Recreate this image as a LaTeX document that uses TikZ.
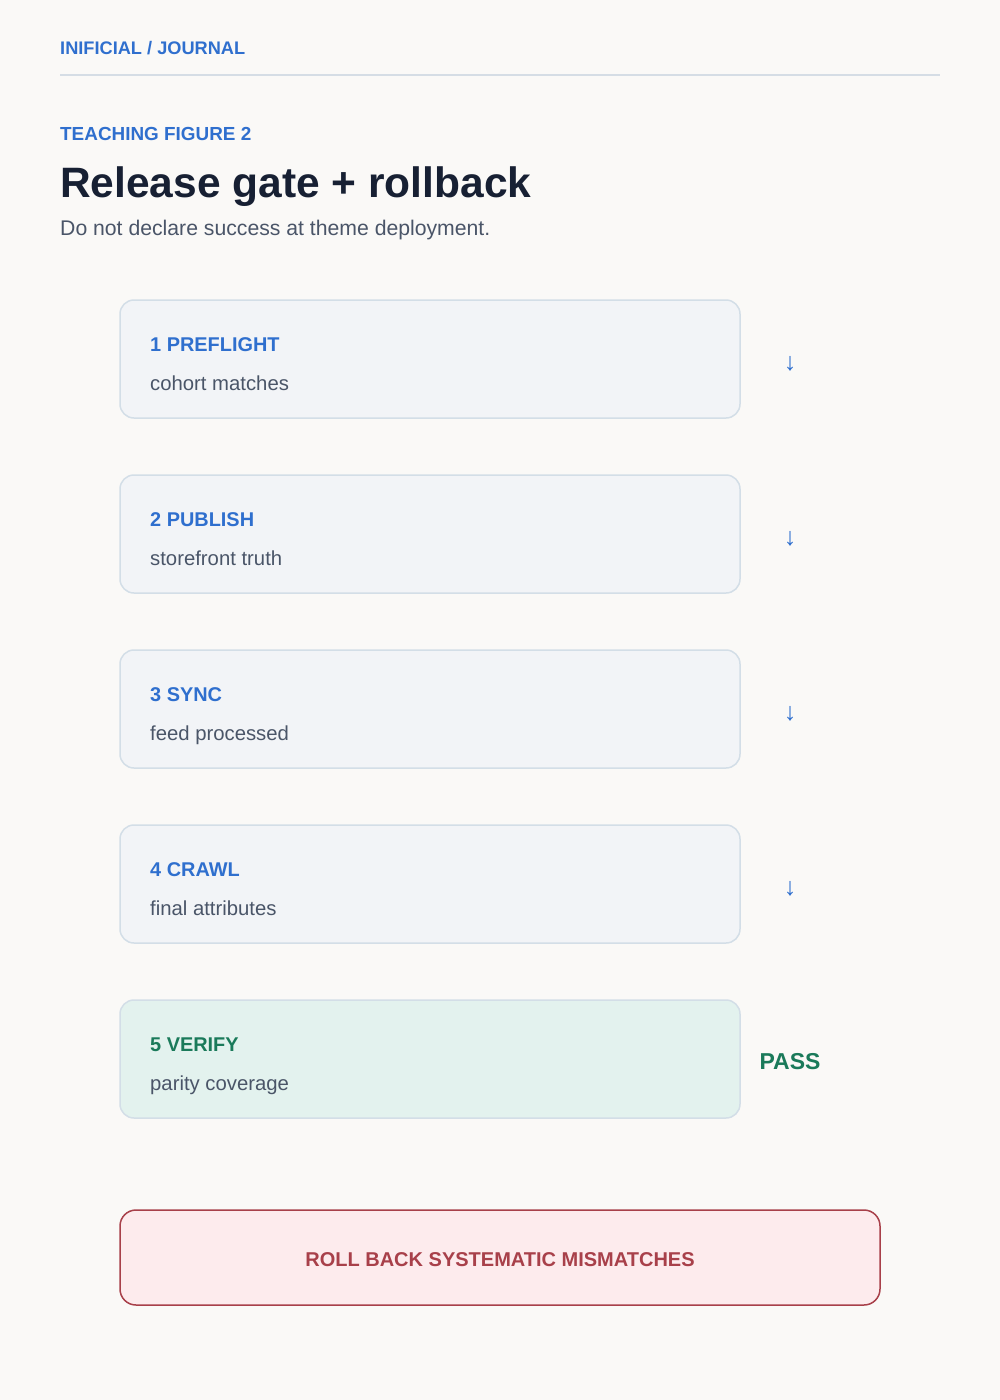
\documentclass[tikz,border=0pt]{standalone}
\usepackage{fontspec}
\setmainfont{Liberation Sans}
\definecolor{bg}{HTML}{FAF9F7}
\definecolor{rule}{HTML}{D5DDE5}
\definecolor{accent}{HTML}{2F6FCE}
\definecolor{ink}{HTML}{172033}
\definecolor{muted}{HTML}{4A5568}
\definecolor{stepfill}{HTML}{F2F4F7}
\definecolor{stepline}{HTML}{D3DEE7}
\definecolor{okfill}{HTML}{E3F2EE}
\definecolor{okink}{HTML}{1A7A5A}
\definecolor{badfill}{HTML}{FDEBED}
\definecolor{badline}{HTML}{A8404A}
\begin{document}
\begin{tikzpicture}[x=1pt,y=-1pt,
  stepbox/.style={draw=stepline,line width=1.5pt,fill=stepfill,rounded corners=14pt,minimum width=620pt,minimum height=118pt,inner sep=0pt},
  okbox/.style={stepbox,fill=okfill},
  steptitle/.style={anchor=base west,inner sep=0pt,font=\fontsize{19.9}{23}\selectfont\bfseries,text=accent},
  stepsub/.style={anchor=base west,inner sep=0pt,font=\fontsize{20.3}{24}\selectfont,text=muted},
  downarrow/.style={inner sep=0pt,font=\fontsize{25}{29}\selectfont,text=accent},
  kicker/.style={anchor=base west,inner sep=0pt,font=\fontsize{18.5}{22}\selectfont\bfseries,text=accent}]
\fill[bg] (0,0) rectangle (1000,1400);
\useasboundingbox (0,0) rectangle (1000,1400);
\node[kicker,font=\fontsize{18.2}{22}\selectfont\bfseries] (brand) at (60,54) {INIFICIAL / JOURNAL};
\coordinate (ruleL) at (60,75);
\coordinate (ruleR) at (940,75);
\draw[rule,line width=1.5pt] (ruleL) -- (ruleR);
\node[kicker,font=\fontsize{18.9}{22}\selectfont\bfseries] (fig) at (60,140) {TEACHING FIGURE 2};
\node[anchor=base west,inner sep=0pt,font=\fontsize{42.5}{48}\selectfont\bfseries,text=ink] (title) at (60,197) {Release gate + rollback};
\node[anchor=base west,inner sep=0pt,font=\fontsize{21.2}{25}\selectfont,text=muted] (sub) at (60,235) {Do not declare success at theme deployment.};

\foreach \i/\y/\t/\s in {1/359/1 PREFLIGHT/cohort matches,2/534/2 PUBLISH/storefront truth,3/709/3 SYNC/feed processed,4/884/4 CRAWL/final attributes}{
  \node[stepbox] (b\i) at (430,\y) {};
  \node[steptitle] (t\i) at (150,\y-8) {\t};
  \node[stepsub] (s\i) at (150,\y+31) {\s};
  \node[downarrow] (a\i) at (790,\y+5) {↓};
}
\node[okbox] (b5) at (430,1059) {};
\node[steptitle,text=okink] (t5) at (150,1051) {5 VERIFY};
\node[stepsub] (s5) at (150,1090) {parity coverage};
\node[inner sep=0pt,font=\fontsize{23}{27}\selectfont\bfseries,text=okink] (pass) at (790,1062) {PASS};

\node[draw=badline,line width=1.5pt,fill=badfill,rounded corners=16pt,minimum width=760pt,minimum height=95pt,inner sep=0pt] (rb) at (500,1257.5) {};
\node[inner sep=0pt,font=\fontsize{20}{24}\selectfont\bfseries,text=badline] (rbt) at (500,1260) {ROLL BACK SYSTEMATIC MISMATCHES};
\end{tikzpicture}
\end{document}
